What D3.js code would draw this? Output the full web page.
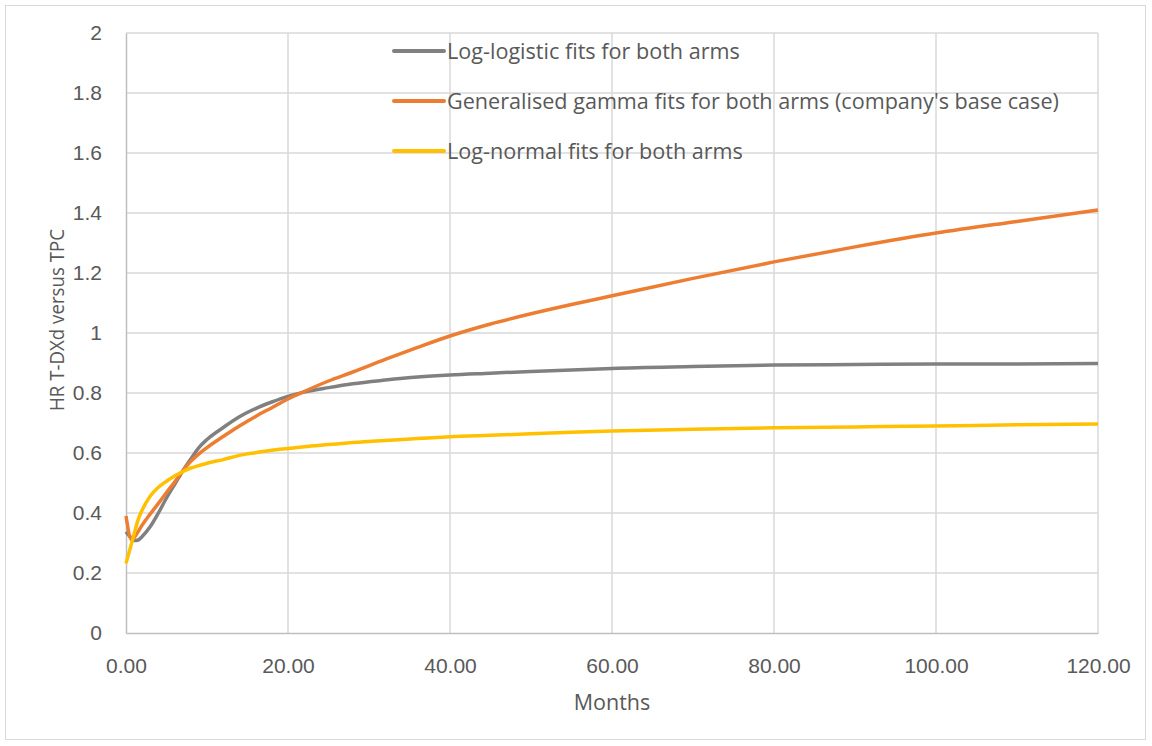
<!DOCTYPE html>
<html>
<head>
<meta charset="utf-8">
<script src="https://cdn.jsdelivr.net/npm/d3@7"></script>
<style>
  body { margin: 0; background: #fff; }
  svg { display: block; font-family: "Open Sans", "Noto Sans", sans-serif; }
</style>
</head>
<body>
<svg width="1152" height="746"></svg>
<script>
const months = [0, 0.7, 1, 1.5, 2, 3, 4, 5, 6, 7, 8, 9, 10, 12, 14, 16, 18, 20, 22, 25, 28, 32, 36, 40, 45, 50, 55, 60, 70, 80, 90, 100, 110, 120]

const logLogistic = [0.338, 0.315, 0.308, 0.31, 0.322, 0.355, 0.40, 0.45, 0.495, 0.54, 0.58, 0.618, 0.645, 0.685, 0.721, 0.748, 0.77, 0.789, 0.803, 0.818, 0.831, 0.843, 0.853, 0.86, 0.866, 0.872, 0.877, 0.882, 0.888, 0.893, 0.895, 0.897, 0.897, 0.898]
const genGamma = [0.39, 0.31, 0.318, 0.338, 0.36, 0.397, 0.432, 0.468, 0.503, 0.54, 0.572, 0.597, 0.618, 0.655, 0.69, 0.722, 0.751, 0.78, 0.805, 0.84, 0.87, 0.912, 0.952, 0.99, 1.03, 1.064, 1.095, 1.124, 1.182, 1.237, 1.287, 1.333, 1.372, 1.41]
const logNormal = [0.232, 0.30, 0.33, 0.378, 0.41, 0.457, 0.486, 0.506, 0.523, 0.538, 0.55, 0.558, 0.566, 0.578, 0.592, 0.601, 0.609, 0.615, 0.621, 0.628, 0.635, 0.642, 0.648, 0.654, 0.659, 0.664, 0.669, 0.673, 0.679, 0.684, 0.687, 0.69, 0.694, 0.697]

const seriesNames = ["Log-logistic fits for both arms", "Generalised gamma fits for both arms (company's base case)", "Log-normal fits for both arms"]
const seriesColors = ["#808080", "#ed7d31", "#ffc000"]
const xTicks = [0, 20, 40, 60, 80, 100, 120]
const yTicks = [0, 0.2, 0.4, 0.6, 0.8, 1, 1.2, 1.4, 1.6, 1.8, 2]

const svg = d3.select("svg")

// outer chart border
svg.append("rect")
  .attr("x", 5.5).attr("y", 5.5)
  .attr("width", 1140).attr("height", 734)
  .attr("fill", "none").attr("stroke", "#d9d9d9")

const x = d3.scaleLinear().domain([0, 120]).range([126, 1098])
const y = d3.scaleLinear().domain([0, 2]).range([633, 33])

// gridlines
svg.append("g").selectAll("line")
  .data(yTicks.slice(1)).enter().append("line")
  .attr("x1", x(0)).attr("x2", x(120))
  .attr("y1", d => y(d)).attr("y2", d => y(d))
  .attr("stroke", "#d9d9d9").attr("stroke-width", 1.5)

svg.append("g").selectAll("line")
  .data(xTicks.slice(1)).enter().append("line")
  .attr("x1", d => x(d)).attr("x2", d => x(d))
  .attr("y1", y(0)).attr("y2", y(2))
  .attr("stroke", "#d9d9d9").attr("stroke-width", 1.5)

// axes
const xAxis = svg.append("g")
  .attr("transform", `translate(0,${y(0)})`)
  .call(d3.axisBottom(x).tickValues(xTicks).tickSize(0).tickPadding(25).tickFormat(d3.format(".2f")))
const yAxis = svg.append("g")
  .attr("transform", `translate(${x(0)},0)`)
  .call(d3.axisLeft(y).tickValues(yTicks).tickSize(0).tickPadding(24).tickFormat(d => String(d)))

;[xAxis, yAxis].forEach(a => {
  a.select(".domain").attr("stroke", "#bfbfbf").attr("stroke-width", 1.5)
  a.selectAll("text").attr("fill", "#595959").attr("font-size", 21).attr("font-family", null)
})

svg.append("text")
  .attr("x", 612).attr("y", 710)
  .attr("text-anchor", "middle")
  .attr("fill", "#595959").attr("font-size", 21.5)
  .text("Months")

svg.append("text")
  .attr("transform", "translate(64,320) rotate(-90)")
  .attr("text-anchor", "middle")
  .attr("fill", "#595959").attr("font-size", 20)
  .attr("textLength", 182).attr("lengthAdjust", "spacingAndGlyphs")
  .text("HR T-DXd versus TPC")

// lines
const line = d3.line()
  .x((d, i) => x(months[i]))
  .y(d => y(d))
  .curve(d3.curveMonotoneX)

svg.append("g").selectAll("path")
  .data([logLogistic, genGamma, logNormal]).enter().append("path")
  .attr("d", line)
  .attr("fill", "none")
  .attr("stroke", (d, i) => seriesColors[i])
  .attr("stroke-width", 3.5)
  .attr("stroke-linejoin", "round")

// legend
const legend = svg.append("g").selectAll("g")
  .data(seriesNames).enter().append("g")
  .attr("transform", (d, i) => `translate(394,${51 + i * 50})`)

legend.append("line")
  .attr("x1", 0).attr("x2", 50)
  .attr("stroke", (d, i) => seriesColors[i])
  .attr("stroke-width", 4)
  .attr("stroke-linecap", "round")

legend.append("text")
  .attr("x", 53).attr("dy", "0.35em")
  .attr("fill", "#595959").attr("font-size", 21.6)
  .text(d => d)
</script>
</body>
</html>
